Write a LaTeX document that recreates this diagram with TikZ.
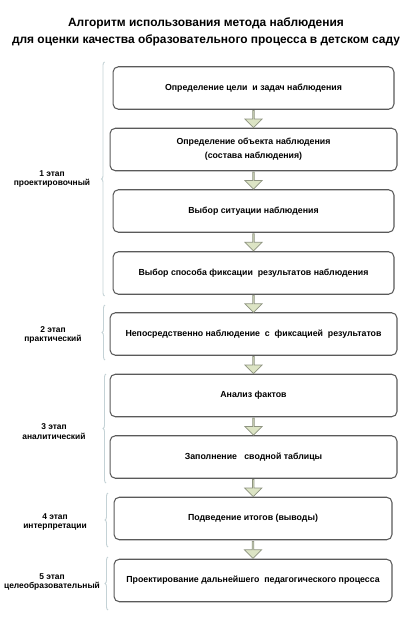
\documentclass[tikz,border=0pt]{standalone}
\usepackage{fontspec}
\setmainfont{Liberation Sans}
\usetikzlibrary{shapes.arrows,decorations.pathreplacing,calc}
\definecolor{boxgray}{HTML}{5A5A5A}
\definecolor{bracegray}{HTML}{C4D2D6}
\definecolor{arrowfill}{HTML}{DCE4C4}
\definecolor{arrowline}{HTML}{8E9480}

\begin{document}
\begin{tikzpicture}[x=0.02cm, y=-0.02cm,
		stepbox/.style={draw=boxgray, line width=0.6pt, rounded corners=3pt, minimum height=0.85cm,
			align=center, font=\fontsize{5}{6}\selectfont\bfseries},
		downarrow/.style={single arrow, draw=arrowline, fill=arrowfill, line width=0.4pt, rotate=-90,
			minimum height=0.34cm, minimum width=0.34cm, single arrow head extend=0.08cm, inner sep=0pt},
		stagebrace/.style={draw=bracegray, line width=0.5pt, decorate, decoration={brace, amplitude=0.06cm}},
		stagelabel/.style={align=center, font=\fontsize{4.8}{5.6}\selectfont\bfseries}]
		\useasboundingbox[fill=white] (0,0) rectangle (412,628);
		% title
		\node[align=center, font=\fontsize{6.8}{9.5}\selectfont\bfseries] (title) at (206,32)
			{Алгоритм использования метода наблюдения\\для оценки качества образовательного процесса в детском саду};
		% steps
		\node[stepbox, minimum width=5.62cm] (b1) at (253.5,88) {Определение цели\ \ и задач наблюдения};
		\node[stepbox, minimum width=5.74cm] (b2) at (253.5,149.5) {Определение объекта наблюдения\\[2pt](состава наблюдения)};
		\node[stepbox, minimum width=5.62cm] (b3) at (253.5,211) {Выбор ситуации наблюдения};
		\node[stepbox, minimum width=5.62cm] (b4) at (253.5,273) {Выбор способа фиксации\ \ результатов наблюдения};
		\node[stepbox, minimum width=5.74cm] (b5) at (253.5,334) {Непосредственно наблюдение\ \ с\ \ фиксацией\ \ результатов};
		\node[stepbox, minimum width=5.74cm] (b6) at (253.5,395.5) {Анализ фактов};
		\node[stepbox, minimum width=5.74cm] (b7) at (253.5,457) {Заполнение\ \ \ сводной таблицы};
		\node[stepbox, minimum width=5.56cm] (b8) at (253,518.5) {Подведение итогов (выводы)};
		\node[stepbox, minimum width=5.56cm] (b9) at (253,580.5) {Проектирование дальнейшего\ \ педагогического процесса};
		% arrows between steps
		\foreach \a/\b in {b1/b2, b2/b3, b3/b4, b4/b5, b5/b6, b6/b7, b7/b8, b8/b9}
			\node[downarrow] (arr-\a) at ($(\a.south)!0.5!(\b.north)$) {};
		% stage braces
		\draw[stagebrace] (104.5,296) -- (104.5,62);
		\draw[stagebrace] (105,360) -- (105,305);
		\draw[stagebrace] (106,483) -- (106,374);
		\draw[stagebrace] (108,547) -- (108,493);
		\draw[stagebrace] (108,610) -- (108,557);
		% stage labels
		\node[stagelabel] (s1) at (52,179) {1 этап\\проектировочный};
		\node[stagelabel] (s2) at (53,335) {2 этап\\практический};
		\node[stagelabel] (s3) at (54,432) {3 этап\\аналитический};
		\node[stagelabel] (s4) at (55,522) {4 этап\\интерпретации};
		\node[stagelabel] (s5) at (52,582) {5 этап\\целеобразовательный};
	\end{tikzpicture}
\end{document}
